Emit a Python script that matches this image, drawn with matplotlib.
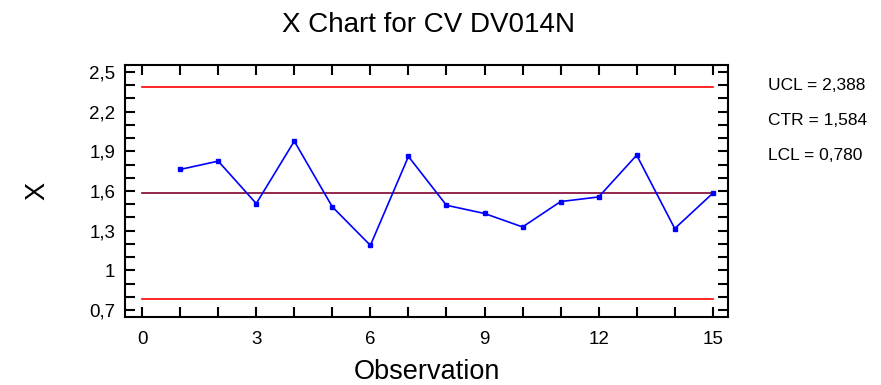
import numpy as np
import matplotlib.pyplot as plt
from matplotlib.ticker import MultipleLocator, FuncFormatter

# ==================== Data ====================
observations = list(range(1, 16))
x_values = [1.763, 1.826, 1.505, 1.977, 1.480, 1.189, 1.861, 1.492,
            1.430, 1.328, 1.520, 1.555, 1.871, 1.316, 1.583]
ucl = 2.388
ctr = 1.584
lcl = 0.780
limit_labels = ['UCL = 2,388', 'CTR = 1,584', 'LCL = 0,780']

plt.rcParams['font.family'] = ['Liberation Sans', 'DejaVu Sans']

fig = plt.figure(figsize=(8.81, 3.85), dpi=100)
ax = fig.add_axes([125 / 881, 1 - 317 / 385, 603 / 881, 252 / 385])

# control limits
ax.plot([0, 15], [ucl, ucl], color='#ff0000', lw=1.2)
ax.plot([0, 15], [lcl, lcl], color='#ff0000', lw=1.2)
ax.plot([0, 15], [ctr, ctr], color='#800030', lw=1.2)

# observations
ax.plot(observations, x_values, color='#0000ff', lw=1.2, marker='s',
        markersize=3.5, markerfacecolor='#0000ff', markeredgecolor='#0000ff')

ax.set_xlim(-0.45, 15.4)
ax.set_ylim(0.647, 2.553)

ax.xaxis.set_major_locator(MultipleLocator(3))
ax.xaxis.set_minor_locator(MultipleLocator(1))
ax.yaxis.set_minor_locator(MultipleLocator(0.1))
ax.set_yticks(np.arange(0.7, 2.51, 0.3))
ax.yaxis.set_major_formatter(FuncFormatter(lambda v, p: ('%.1f' % v).rstrip('0').rstrip('.').replace('.', ',')))

ax.tick_params(which='both', direction='in', top=True, right=True, labelsize=13.5, width=1.5, length=7)
ax.tick_params(axis='x', pad=10)
ax.tick_params(axis='y', pad=7)
for s in ax.spines.values():
    s.set_linewidth(1.5)

fig.text(429 / 881, 1 - 25 / 385, 'X Chart for CV DV014N', fontsize=20, ha='center', va='center')
ax.set_xlabel('Observation', fontsize=19.5)
ax.xaxis.set_label_coords(0.5, -0.165)
ax.set_ylabel('X', fontsize=19.5)
ax.yaxis.set_label_coords(-0.123, 0.5)

for i, lab in enumerate(limit_labels):
    fig.text(768 / 881, 1 - (85 + 35.5 * i) / 385, lab, fontsize=12.5, va='center', ha='left')

fig.savefig('out.png', dpi=100)
